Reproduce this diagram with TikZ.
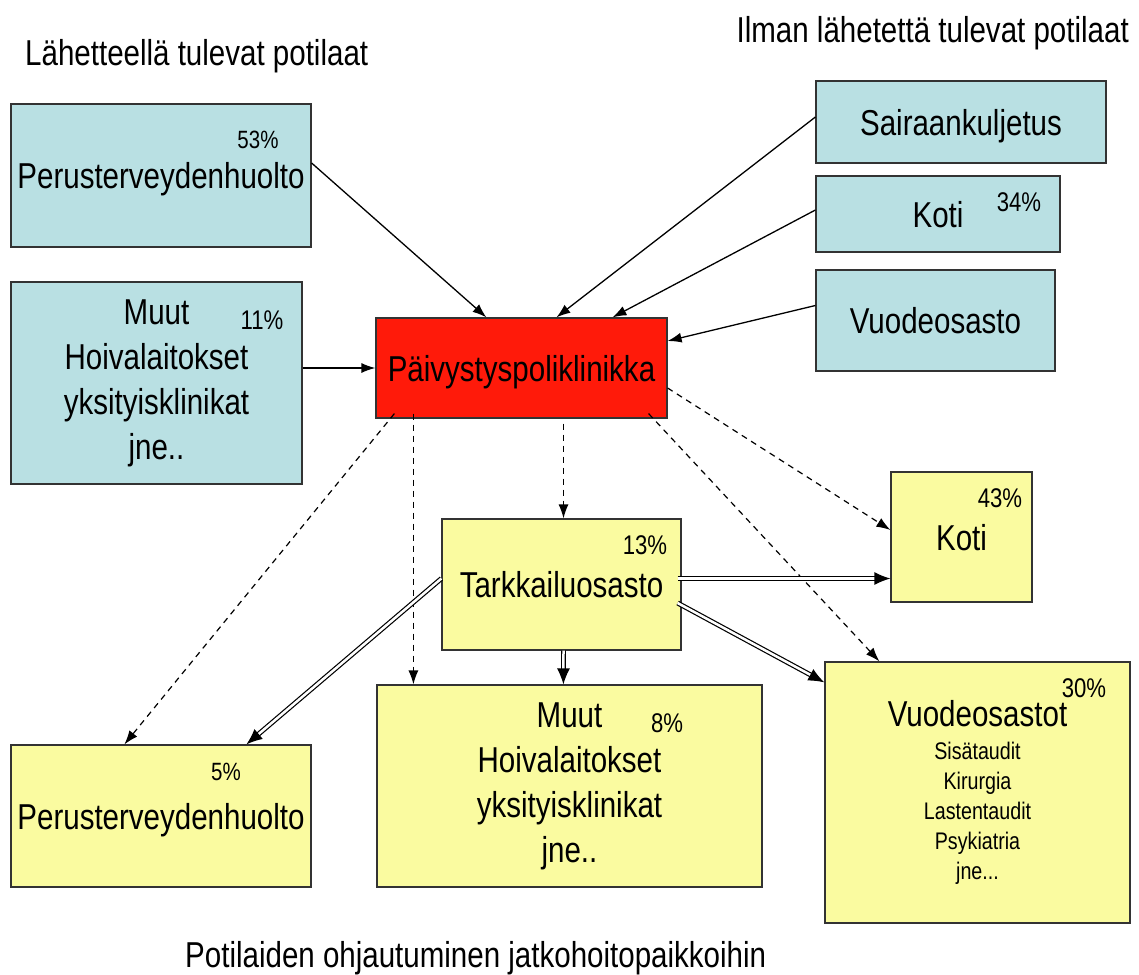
\documentclass[tikz,border=0pt]{standalone}
\usepackage{fontspec}
\setmainfont{Liberation Sans}[FakeStretch=0.82]
\usetikzlibrary{arrows.meta, calc}
\definecolor{inblue}{RGB}{185,224,227}
\definecolor{outyellow}{RGB}{250,251,160}
\definecolor{erred}{RGB}{255,26,10}
\newcommand\bigtxt{\fontsize{36}{45}\selectfont}
\newcommand\pcttxt{\fontsize{27}{32}\selectfont}
\newcommand\pctsmall{\fontsize{25}{30}\selectfont}
\newcommand\subtxt{\fontsize{24}{30}\selectfont}

\begin{document}
\begin{tikzpicture}[x=1pt, y=-1pt, >={Latex[length=14pt,width=10pt]}]
  \tikzstyle{box}=[draw=black!80, line width=1.2pt, inner sep=0pt, align=center, font=\bigtxt]
  \tikzstyle{oneline}=[text height=30pt, text depth=4pt]
  \tikzstyle{inbox}=[box, fill=inblue]
  \tikzstyle{outbox}=[box, fill=outyellow]
  \tikzstyle{pct}=[font=\pcttxt, inner sep=0pt]
  \tikzstyle{title}=[font=\bigtxt, inner sep=0pt]
  \tikzstyle{flow}=[->, line width=1.3pt]
  \tikzstyle{maybe}=[->, line width=1.2pt, dash pattern=on 6pt off 5pt]
  \tikzstyle{main}=[double, double distance=2.5pt, line width=1.2pt, -{Latex[length=16pt,width=13pt]}]
  \useasboundingbox (0,0) rectangle (1139,974);

  % titles
  \node[title, anchor=base west] (t_lahete) at (25,66) {Lähetteellä tulevat potilaat};
  \node[title, anchor=base east] (t_ilman) at (1129,43) {Ilman lähetettä tulevat potilaat};
  \node[title, anchor=base west] (t_ohjaus) at (185,967) {Potilaiden ohjautuminen jatkohoitopaikkoihin};

  % incoming
  \node[inbox, oneline, minimum width=300pt, minimum height=143pt] (perus_in) at (161,175.5) {Perusterveydenhuolto};
  \node[inbox, minimum width=291pt, minimum height=202pt] (muut_in) at (156.5,383) {Muut\\Hoivalaitokset\\yksityisklinikat\\jne..};
  \node[inbox, oneline, minimum width=290pt, minimum height=82pt] (sairaan) at (961,122) {Sairaankuljetus};
  \node[inbox, oneline, minimum width=244pt, minimum height=76pt] (koti_in) at (938,214) {Koti};
  \node[inbox, oneline, minimum width=239pt, minimum height=101pt] (vuode_in) at (935.5,320.5) {Vuodeosasto};
  \node[box, oneline, fill=erred, minimum width=291pt, minimum height=100pt] (paiv) at (521.5,368) {Päivystyspoliklinikka};

  % outgoing
  \node[outbox, oneline, minimum width=239pt, minimum height=131pt] (tarkk) at (561.5,584.5) {Tarkkailuosasto};
  \node[outbox, oneline, minimum width=141pt, minimum height=130pt] (koti_out) at (961.5,537) {Koti};
  \node[outbox, oneline, minimum width=300pt, minimum height=142pt] (perus_out) at (161,816) {Perusterveydenhuolto};
  \node[outbox, minimum width=385pt, minimum height=202pt] (muut_out) at (569.5,786) {Muut\\Hoivalaitokset\\yksityisklinikat\\jne..};
  \node[outbox, font=\subtxt, minimum width=305pt, minimum height=261pt] (vuode_out) at (977.5,792.5)
    {{\bigtxt Vuodeosastot}\\[3pt]Sisätaudit\\Kirurgia\\Lastentaudit\\Psykiatria\\jne...};

  % shares
  \node[pct, font=\pctsmall] (p_perus_in) at (258,140) {53\%};
  \node[pct] (p_muut_in) at (262,320) {11\%};
  \node[pct] (p_koti_in) at (1019,202) {34\%};
  \node[pct] (p_tarkk) at (645,545) {13\%};
  \node[pct] (p_koti_out) at (1000,498) {43\%};
  \node[pct, font=\pctsmall] (p_perus_out) at (226,772) {5\%};
  \node[pct] (p_muut_out) at (667,723) {8\%};
  \node[pct] (p_vuode_out) at (1084,688) {30\%};

  \draw[flow] ($(perus_in.east)+(0,-12.5)$) -- ($(paiv.north west)+(111,0)$);
  \draw[flow] (muut_in.east |- paiv.west) -- (paiv.west);
  \draw[flow] ($(sairaan.west)+(0,-5)$) -- ($(paiv.north west)+(181,0)$);
  \draw[flow] ($(koti_in.west)+(0,-4)$) -- ($(paiv.north west)+(237,0)$);
  \draw[flow] ($(vuode_in.west)+(0,-15)$) -- ($(paiv.east)+(0,-27)$);

  \draw[maybe] ($(paiv.south west)+(19,-5)$) -- ($(perus_out.north west)+(114,0)$);
  \draw[maybe] ($(paiv.south west)+(38,-5)$) -- ($(muut_out.north west)+(37,0)$);
  \draw[maybe] ($(paiv.south)+(42,5)$) -- ($(tarkk.north)+(2,0)$);
  \draw[maybe] ($(paiv.east)+(0,20)$) -- ($(koti_out.west)+(0,-7)$);
  \draw[maybe] ($(paiv.south east)+(-19,-5)$) -- ($(vuode_out.north west)+(55,0)$);

  \draw[main] ($(tarkk.west)+(0,-6)$) -- ($(perus_out.north west)+(236,0)$);
  \draw[main] ($(tarkk.south)+(2,0)$) -- ($(muut_out.north west)+(187,0)$);
  \coordinate (t_e) at ($(tarkk.east)+(-4,-6)$);
  \draw[main] (t_e) -- (t_e -| koti_out.west);
  \draw[main] ($(tarkk.east)+(-4,18.5)$) -- ($(vuode_out.north west)+(0,21)$);
\end{tikzpicture}
\end{document}
